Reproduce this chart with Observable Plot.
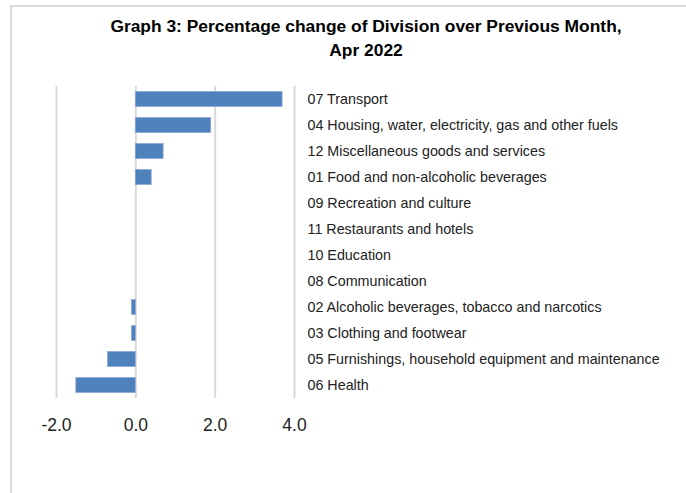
<!DOCTYPE html>
<html>
<head>
<meta charset="utf-8">
<script src="https://cdn.jsdelivr.net/npm/d3@7"></script>
<script src="https://cdn.jsdelivr.net/npm/@observablehq/plot@0.6"></script>
<style>
  html, body { margin: 0; padding: 0; background: #fff; }
  #frame { position: relative; width: 686px; height: 493px; overflow: hidden; font-family: "Liberation Sans", Arial, sans-serif; }
  #border { position: absolute; left: 10px; top: 5px; width: 700px; height: 520px; border-left: 2px solid #d9d9d9; border-top: 2px solid #d9d9d9; box-sizing: border-box; }
  #title { position: absolute; left: 0; top: 0; width: 686px; height: 80px; }
  #title div { position: absolute; left: 0; width: 732px; text-align: center; font-weight: bold; font-size: 17.4px; color: #000; }
  #chart { position: absolute; left: 0; top: 80px; }
</style>
</head>
<body>
<div id="frame">
  <div id="border"></div>
  <div id="title">
    <div style="top:16px">Graph 3: Percentage change of Division over Previous Month,</div>
    <div style="top:40px">Apr 2022</div>
  </div>
  <div id="chart"></div>
</div>
<script>
const categories = [
  "07 Transport",
  "04 Housing, water, electricity, gas and other fuels",
  "12 Miscellaneous goods and services",
  "01 Food and non-alcoholic beverages",
  "09 Recreation and culture",
  "11 Restaurants and hotels",
  "10 Education",
  "08 Communication",
  "02 Alcoholic beverages, tobacco and narcotics",
  "03 Clothing and footwear",
  "05 Furnishings, household equipment and maintenance",
  "06 Health"
];
const values = [3.7, 1.9, 0.7, 0.4, 0.0, 0.0, 0.0, 0.0, -0.1, -0.1, -0.7, -1.5];
const xTicks = [-2, 0, 2, 4];

const data = categories.map((c, i) => ({category: c, value: values[i]}));

const chart = Plot.plot({
  width: 686,
  height: 413,
  marginTop: 6,
  marginBottom: 95,
  marginLeft: 56,
  marginRight: 392,
  style: {fontFamily: "'Liberation Sans', Arial, sans-serif", background: "transparent", overflow: "visible"},
  x: {domain: [-2, 4], ticks: xTicks},
  y: {domain: categories, paddingInner: 0.42, paddingOuter: 0.21, round: false},
  marks: [
    Plot.gridX(xTicks, {stroke: "#d9d9d9", strokeOpacity: 1, strokeWidth: 2}),
    Plot.barX(data, {x: "value", y: "category", fill: "#4f81bd", stroke: "#8eaad3", strokeWidth: 0.8}),
    Plot.axisX(xTicks, {anchor: "bottom", tickSize: 0, tickPadding: 20, fontSize: 17.5, fill: "#222", tickFormat: d => d.toFixed(1), label: null}),
    Plot.axisY({anchor: "right", tickSize: 0, tickPadding: 13, fontSize: 14.3, fill: "#222", textAnchor: "start", label: null})
  ]
});
document.getElementById("chart").appendChild(chart);
</script>
</body>
</html>
